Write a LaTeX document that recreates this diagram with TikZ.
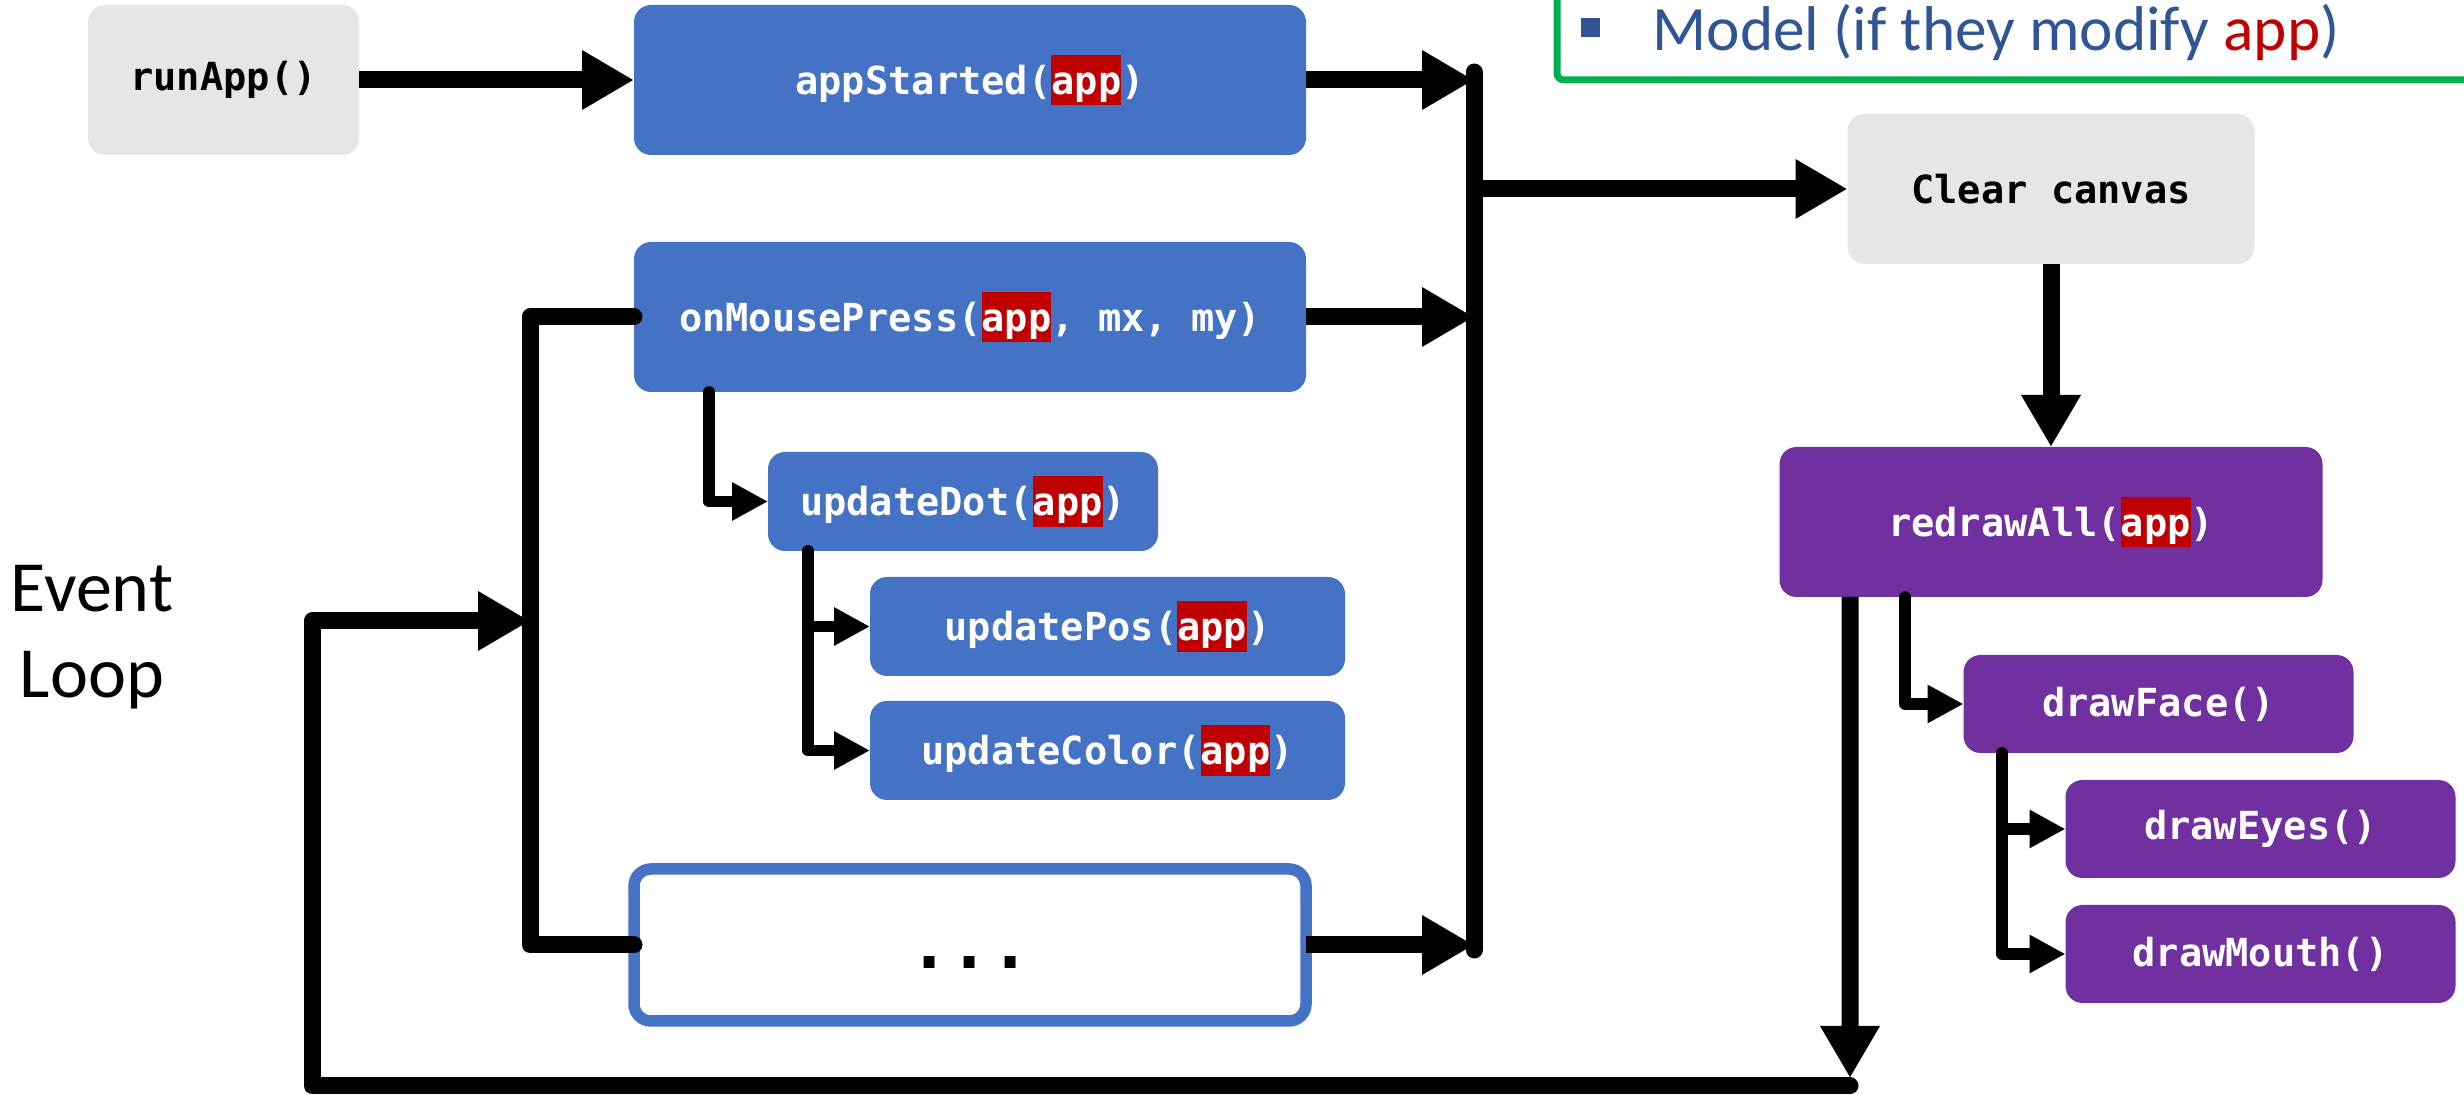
\documentclass[tikz,border=0pt]{standalone}
\usepackage{fontspec}
\setmainfont{Carlito}
\newfontfamily\codefont{DejaVu Sans Mono}
\usepackage{xcolor}
\usetikzlibrary{arrows.meta,positioning}

\definecolor{callblue}{HTML}{4472C4}
\definecolor{drawpurple}{HTML}{7030A0}
\definecolor{sysgray}{HTML}{E6E6E6}
\definecolor{appred}{HTML}{C00000}
\definecolor{noteblue}{HTML}{2F5597}
\definecolor{notegreen}{HTML}{00B050}

% the app argument, white on red
\newcommand{\hlapp}{{\setlength{\fboxsep}{0pt}\colorbox{appred}{\rule[-0.28em]{0pt}{1.31em}app}}}

\begin{document}
\begin{tikzpicture}[
      code/.style={rounded corners=0.17cm, inner sep=0pt, outer sep=0pt,
                   align=center, font=\codefont\bfseries\fontsize{11pt}{13pt}\selectfont},
      sys/.style={code, fill=sysgray, text=black, minimum height=1.5cm},
      call/.style={code, fill=callblue, text=white, minimum height=1.5cm},
      sub/.style={code, fill=callblue, text=white, minimum height=0.99cm},
      paint/.style={code, fill=drawpurple, text=white, minimum height=0.98cm},
      arr/.style={-{Triangle[length=0.52cm,width=0.56cm]}, line width=0.17cm},
      sarr/.style={-{Triangle[length=0.36cm,width=0.36cm]}, line width=0.115cm,
                   line cap=round, line join=round},
      link/.style={line width=0.17cm, line cap=round, line join=round}
  ]
    \useasboundingbox (0,0) rectangle (24.64,-10.95);

    % note in the corner
    \draw[notegreen, line width=0.07cm, rounded corners=2pt] (15.57,-0.80) rectangle (25.2,0.6);
    \node[fill=noteblue, minimum size=0.19cm, inner sep=0pt] (bullet) at (15.905,-0.275) {};
    \node[anchor=base west, inner sep=0pt, text=noteblue, font=\fontsize{18pt}{22pt}\selectfont]
      (model) at (16.52,-0.51) {Model (if they modify \textcolor{appred}{app})};

    \node[font=\fontsize{20.5pt}{24.5pt}\selectfont, align=center] (loop) at (0.92,-6.37) {Event\\ Loop};

    % controllers
    \node[sys, minimum width=2.71cm] (run) at (2.235,-0.80) {runApp()};
    \node[call, minimum width=6.72cm, right=2.75cm of run] (started) {appStarted(\hlapp)};
    \node[call, minimum width=6.72cm, below=0.87cm of started] (press) {onMousePress(\hlapp, mx, my)};
    \node[sub, minimum width=3.90cm, below right=0.60cm and 1.34cm of press.south west] (dot) {updateDot(\hlapp)};
    \node[sub, minimum width=4.75cm, below right=0.26cm and 1.02cm of dot.south west] (pos) {updatePos(\hlapp)};
    \node[sub, minimum width=4.75cm, below=0.25cm of pos] (color) {updateColor(\hlapp)};
    \node[code, draw=callblue, line width=0.115cm, fill=white, minimum width=6.72cm,
          minimum height=1.52cm, below=4.77cm of press, font=\codefont\bfseries\fontsize{19pt}{22pt}\selectfont]
      (more) {\rule{0pt}{0.48cm}...};

    % view
    \node[sys, minimum width=4.07cm] (clear) at (20.51,-1.89) {Clear canvas};
    \node[paint, minimum width=5.43cm, minimum height=1.5cm, below=1.83cm of clear] (redraw) {redrawAll(\hlapp)};
    \node[paint, minimum width=3.90cm, below right=0.58cm and 1.84cm of redraw.south west] (face) {drawFace()};
    \node[paint, minimum width=3.90cm, below right=0.27cm and 1.02cm of face.south west] (eyes) {drawEyes()};
    \node[paint, minimum width=3.90cm, below=0.27cm of eyes] (mouth) {drawMouth()};

    \coordinate (jtop) at (14.74,-0.72);
    \coordinate (jbot) at (14.74,-9.50);
    \coordinate (lin) at (5.30,-6.21);
    \coordinate (lbr) at (18.50,-10.86);
    \coordinate (lbl) at (3.12,-10.86);

    \draw[arr] (run) -- (started);
    \draw[link] (jtop) -- (jbot);
    \draw[arr] (started) -- (started -| jtop);
    \draw[arr] (press) -- (press -| jtop);
    \draw[arr] (more) -- (more -| jtop);
    \draw[arr] (clear -| jtop) -- (clear);
    \draw[arr] (clear) -- (redraw);

    \draw[link] (press.west) -| (lin) |- (more.west);
    \draw[sarr] ([xshift=0.75cm]press.south west) |- (dot);
    \draw[sarr] ([xshift=0.40cm]dot.south west) |- (pos);
    \draw[sarr] ([xshift=0.40cm]dot.south west) |- (color);

    \draw[sarr] ([xshift=1.255cm]redraw.south west) |- (face);
    \draw[sarr] ([xshift=0.385cm]face.south west) |- (eyes);
    \draw[sarr] ([xshift=0.385cm]face.south west) |- (mouth);

    % back round the loop
    \draw[arr] ([xshift=0.705cm]redraw.south west) -- ([yshift=0.08cm]lbr);
    \draw[arr, line cap=round, line join=round] (lbr) -- (lbl) |- (lin);
\end{tikzpicture}
\end{document}
